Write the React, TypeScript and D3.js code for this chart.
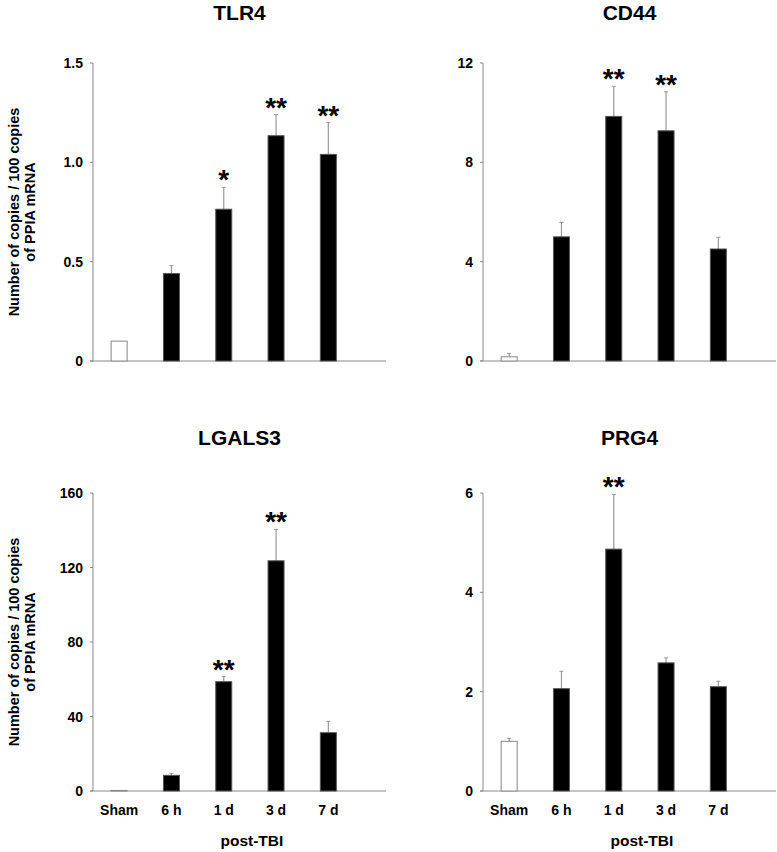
import React from "react";
import * as d3 from "d3";

const categories = ["Sham", "6 h", "1 d", "3 d", "7 d"];

const tlr4Values = [0.1, 0.44, 0.764, 1.134, 1.04];
const tlr4Errors = [0, 0.04, 0.11, 0.106, 0.16];
const tlr4Stars = ["", "", "*", "**", "**"];
const tlr4Ticks = [0, 0.5, 1.0, 1.5];

const cd44Values = [0.17, 5.0, 9.85, 9.27, 4.51];
const cd44Errors = [0.14, 0.58, 1.21, 1.57, 0.47];
const cd44Stars = ["", "", "**", "**", ""];
const cd44Ticks = [0, 4, 8, 12];

const lgals3Values = [0.3, 8.4, 58.7, 123.6, 31.3];
const lgals3Errors = [0, 1.1, 2.7, 16.9, 6.1];
const lgals3Stars = ["", "", "**", "**", ""];
const lgals3Ticks = [0, 40, 80, 120, 160];

const prg4Values = [1.0, 2.06, 4.87, 2.58, 2.1];
const prg4Errors = [0.06, 0.35, 1.1, 0.1, 0.11];
const prg4Stars = ["", "", "**", "", ""];
const prg4Ticks = [0, 2, 4, 6];

const yLabelLines = ["Number of copies / 100 copies", "of PPIA mRNA"];
const xAxisTitle = "post-TBI";

const FONT = "'Liberation Sans', Arial, Helvetica, sans-serif";
const AXIS = "#8a8a8a";

type PanelProps = {
  title: string;
  values: number[];
  errors: number[];
  stars: string[];
  ticks: number[];
  tickFormat: (v: number) => string;
  ox: number;
  oy: number;
  titleY: number;
  showYLabel: boolean;
  showXLabels: boolean;
};

function Panel(p: PanelProps) {
  const axisX = 93;
  const axisEnd = 386;
  const top = 63;
  const base = 361;
  const y = d3
    .scaleLinear()
    .domain([0, p.ticks[p.ticks.length - 1]])
    .range([base, top]);
  const x = d3
    .scalePoint<string>()
    .domain(categories)
    .range([axisX, axisX + 261.5])
    .padding(0.5);
  const bw = 16;
  const tbiCenter = ((x("6 h") as number) + (x("7 d") as number)) / 2 + 2;
  return (
    <g transform={`translate(${p.ox},${p.oy})`} fontFamily={FONT}>
      <text
        x={(axisX + axisEnd) / 2}
        y={p.titleY}
        textAnchor="middle"
        fontSize={21}
        fontWeight="bold"
      >
        {p.title}
      </text>
      {p.showYLabel && (
        <g transform={`translate(14,${(top + base) / 2}) rotate(-90)`}>
          {yLabelLines.map((l, i) => (
            <text
              key={l}
              x={0}
              y={i * 16}
              dy="0.35em"
              textAnchor="middle"
              fontSize={14.5}
              fontWeight="bold"
            >
              {l}
            </text>
          ))}
        </g>
      )}
      <line x1={axisX} x2={axisX} y1={top} y2={base} stroke={AXIS} strokeWidth={1} />
      <line x1={axisX - 3} x2={axisEnd} y1={base} y2={base} stroke={AXIS} strokeWidth={1} />
      {p.ticks.map((t) => (
        <g key={t}>
          <line x1={axisX - 3} x2={axisX} y1={y(t)} y2={y(t)} stroke={AXIS} strokeWidth={1} />
          <text
            x={axisX - 10}
            y={y(t)}
            dy="0.36em"
            textAnchor="end"
            fontSize={14}
            fontWeight="bold"
          >
            {p.tickFormat(t)}
          </text>
        </g>
      ))}
      {categories.map((c, i) => {
        const cx = x(c) as number;
        const v = p.values[i];
        const e = p.errors[i];
        const sham = i === 0;
        return (
          <g key={c}>
            {e > 0 && (
              <g>
                <line x1={cx} x2={cx} y1={y(v)} y2={y(v + e)} stroke="#999" strokeWidth={1.2} />
                <line x1={cx - 2} x2={cx + 2} y1={y(v + e)} y2={y(v + e)} stroke="#999" strokeWidth={1} />
              </g>
            )}
            <rect
              x={cx - bw / 2}
              y={y(v)}
              width={bw}
              height={base - y(v)}
              fill={sham ? "#fff" : "#000"}
              stroke={sham ? "#888" : "#555"}
              strokeWidth={1}
            />
            {p.stars[i] && (
              <text
                x={cx}
                y={y(v + e) + 2}
                textAnchor="middle"
                fontSize={28}
                fontWeight="bold"
              >
                {p.stars[i]}
              </text>
            )}
            {p.showXLabels && (
              <text
                x={cx}
                y={base + 24}
                textAnchor="middle"
                fontSize={14}
                fontWeight="bold"
              >
                {c}
              </text>
            )}
          </g>
        );
      })}
      {p.showXLabels && (
        <text x={tbiCenter} y={base + 55} textAnchor="middle" fontSize={15.5} fontWeight="bold">
          {xAxisTitle}
        </text>
      )}
    </g>
  );
}

export default function App() {
  const fmt1 = (v: number) => (v === 0 ? "0" : d3.format(".1f")(v));
  const fmt0 = (v: number) => d3.format("d")(v);
  return (
    <svg
      width={777}
      height={852}
      style={{ position: "absolute", left: 0, top: 0, background: "#fff" }}
    >
      <rect width={777} height={852} fill="#fff" />
      <Panel
        title="TLR4"
        values={tlr4Values}
        errors={tlr4Errors}
        stars={tlr4Stars}
        ticks={tlr4Ticks}
        tickFormat={fmt1}
        ox={0}
        oy={0}
        titleY={19.5}
        showYLabel={true}
        showXLabels={false}
      />
      <Panel
        title="CD44"
        values={cd44Values}
        errors={cd44Errors}
        stars={cd44Stars}
        ticks={cd44Ticks}
        tickFormat={fmt0}
        ox={390}
        oy={0}
        titleY={19.5}
        showYLabel={false}
        showXLabels={false}
      />
      <Panel
        title="LGALS3"
        values={lgals3Values}
        errors={lgals3Errors}
        stars={lgals3Stars}
        ticks={lgals3Ticks}
        tickFormat={fmt0}
        ox={0}
        oy={430}
        titleY={15}
        showYLabel={true}
        showXLabels={true}
      />
      <Panel
        title="PRG4"
        values={prg4Values}
        errors={prg4Errors}
        stars={prg4Stars}
        ticks={prg4Ticks}
        tickFormat={fmt0}
        ox={390}
        oy={430}
        titleY={15}
        showYLabel={false}
        showXLabels={true}
      />
    </svg>
  );
}
